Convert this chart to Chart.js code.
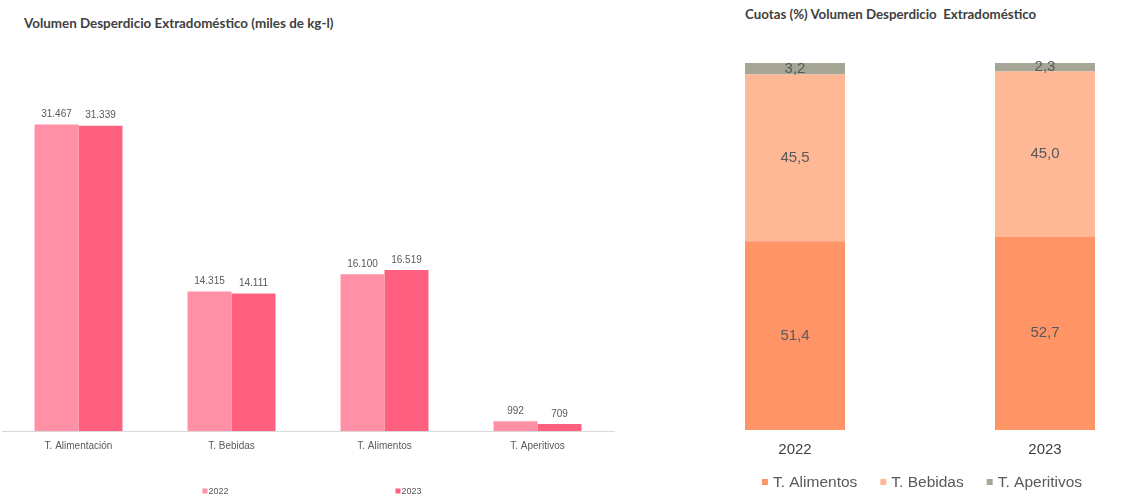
<!DOCTYPE html>
<html>
<head>
<meta charset="utf-8">
<script src="https://cdn.jsdelivr.net/npm/chart.js@4.4.0/dist/chart.umd.min.js"></script>
<style>
  html, body { margin: 0; padding: 0; background: #fff; overflow: hidden; }
  body { width: 1131px; height: 498px; position: relative; }
  .titulo { position: absolute; font-family: Lato, "Liberation Sans", sans-serif; font-weight: bold; color: #404040; white-space: nowrap; }
  #t1 { left: 24px; top: 15px; font-size: 13.4px; }
  #t2 { left: 745px; top: 6px; font-size: 13.3px; }
  #box1 { position: absolute; left: 0; top: 0; width: 620px; height: 498px; }
  #box2 { position: absolute; left: 670px; top: 0; width: 500px; height: 498px; }
</style>
</head>
<body>
<div class="titulo" id="t1">Volumen Desperdicio Extradoméstico (miles de kg-l)</div>
<div class="titulo" id="t2">Cuotas (%) Volumen Desperdicio&nbsp; Extradoméstico</div>
<div id="box1"><canvas id="volumen"></canvas></div>
<div id="box2"><canvas id="cuotas"></canvas></div>
<script>
// --- datos del gráfico de volumen (miles de kg-l) ---
const categorias = ['T. Alimentación', 'T. Bebidas', 'T. Alimentos', 'T. Aperitivos'];
const vol2022 = [31467, 14315, 16100, 992];
const vol2023 = [31339, 14111, 16519, 709];

// --- datos de cuotas (%) ---
const anios = ['2022', '2023'];
const cuotaAlimentos = [51.4, 52.7];
const cuotaBebidas = [45.5, 45.0];
const cuotaAperitivos = [3.2, 2.3];

const FUENTE = '"Liberation Sans", Arial, sans-serif';

// etiquetas de valor dibujadas a mano (no hay plugin datalabels)
const etiquetas = {
  id: 'etiquetas',
  afterDatasetsDraw(chart, args, opts) {
    const ctx = chart.ctx;
    ctx.save();
    ctx.font = opts.size + 'px ' + FUENTE;
    ctx.fillStyle = opts.color;
    ctx.textAlign = 'center';
    chart.data.datasets.forEach((ds, i) => {
      chart.getDatasetMeta(i).data.forEach((bar, j) => {
        const v = ds.data[j];
        if (opts.dentro) {
          ctx.textBaseline = 'middle';
          const y = (bar.y + bar.base) / 2;
          ctx.fillText(v.toFixed(1).replace('.', ','), bar.x, y);
        } else {
          ctx.textBaseline = 'bottom';
          ctx.fillText(v.toLocaleString('de-DE'), bar.x, bar.y - 5);
        }
      });
    });
    ctx.restore();
  }
};

// leyenda propia: cuadrito + texto, centrada y con separación libre
const leyendaAbajo = {
  id: 'leyendaAbajo',
  afterDraw(chart, args, opts) {
    const ctx = chart.ctx;
    ctx.save();
    ctx.font = opts.size + 'px ' + FUENTE;
    ctx.textBaseline = 'middle';
    const items = chart.data.datasets.map(ds => ({
      ds, w: opts.caja + opts.hueco + ctx.measureText(ds.label).width
    }));
    const total = items.reduce((s, it) => s + it.w, 0) + opts.separa * (items.length - 1);
    let x = chart.width / 2 + (opts.dx || 0) - total / 2;
    items.forEach(it => {
      ctx.fillStyle = it.ds.backgroundColor;
      ctx.fillRect(x, opts.y - opts.caja / 2, opts.caja, opts.caja);
      ctx.fillStyle = '#595959';
      ctx.fillText(it.ds.label, x + opts.caja + opts.hueco, opts.y + 1);
      x += it.w + opts.separa;
    });
    ctx.restore();
  }
};

new Chart(document.getElementById('volumen'), {
  type: 'bar',
  data: {
    labels: categorias,
    datasets: [
      { label: '2022', data: vol2022, backgroundColor: '#ff90a5', barPercentage: 1, categoryPercentage: 0.575 },
      { label: '2023', data: vol2023, backgroundColor: '#ff6080', barPercentage: 1, categoryPercentage: 0.575 }
    ]
  },
  options: {
    responsive: true,
    maintainAspectRatio: false,
    animation: false,
    layout: { padding: { top: 90, left: 2, right: 6, bottom: 37 } },
    plugins: {
      legend: { display: false },
      tooltip: { enabled: false },
      etiquetas: { size: 10, color: '#595959', dentro: false },
      leyendaAbajo: { y: 491, size: 9, caja: 5, hueco: 1, separa: 167, dx: 2 }
    },
    scales: {
      x: {
        grid: { display: false, drawTicks: false },
        border: { display: true, color: '#d9d9d9', width: 1 },
        ticks: { color: '#595959', font: { family: FUENTE, size: 10 }, padding: 9 }
      },
      y: { display: false, min: 0, max: 35000 }
    }
  },
  plugins: [etiquetas, leyendaAbajo]
});

new Chart(document.getElementById('cuotas'), {
  type: 'bar',
  data: {
    labels: anios,
    datasets: [
      { label: 'T. Alimentos', data: cuotaAlimentos, backgroundColor: '#ff9466', barPercentage: 1, categoryPercentage: 0.4 },
      { label: 'T. Bebidas', data: cuotaBebidas, backgroundColor: '#ffb896', barPercentage: 1, categoryPercentage: 0.4 },
      { label: 'T. Aperitivos', data: cuotaAperitivos, backgroundColor: '#a6a696', barPercentage: 1, categoryPercentage: 0.4 }
    ]
  },
  options: {
    responsive: true,
    maintainAspectRatio: false,
    animation: false,
    layout: { padding: { top: 63, left: 0, right: 0, bottom: 28 } },
    plugins: {
      tooltip: { enabled: false },
      legend: { display: false },
      etiquetas: { size: 15, color: '#595959', dentro: true },
      leyendaAbajo: { y: 482, size: 15.5, caja: 6, hueco: 5, separa: 23, dx: 2 }
    },
    scales: {
      x: {
        stacked: true,
        grid: { display: false, drawTicks: false },
        border: { display: false },
        ticks: { color: '#404040', font: { family: FUENTE, size: 15 }, padding: 11 }
      },
      y: { stacked: true, display: false, min: 0, max: 100 }
    }
  },
  plugins: [etiquetas, leyendaAbajo]
});
</script>
</body>
</html>
